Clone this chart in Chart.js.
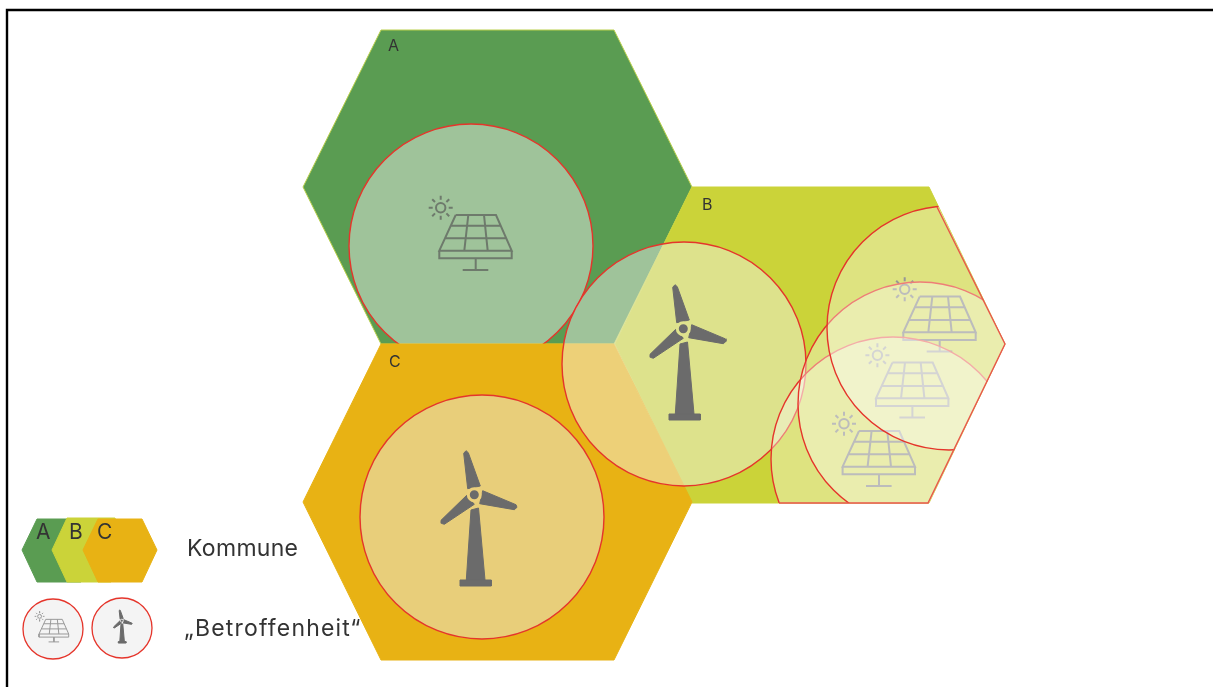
<!DOCTYPE html>
<html>
	<head>
		<meta charset="UTF-8">
		<title>Betroffenheit</title>
		<script src="https://cdn.jsdelivr.net/npm/chart.js"></script>
		<style>
			* {padding: 0; margin: 0;}
			html, body {background: #fff; overflow: hidden;}
			canvas {display: block;}
		</style>
	</head>
	<body>
		<canvas id="myChart" width="1213" height="687"></canvas>
		<script>
			// shapes (x, y in scale units)
			const hexA = [[381,30],[614,30],[692,187],[614,344],[381,344],[303,187],[381,30]];
			const hexB = [[692,187],[929,187],[1005,344],[929,503],[692,503],[615,344],[692,187]];
			const hexC = [[381,344],[614,344],[692,502],[614,660],[381,660],[303,502],[381,344]];
			const hexEdgeB = [[937,207],[1005,344],[928,503],[779,503]];
			const legendA = [[37,519],[81,519],[96,550],[81,582],[37,582],[22,550],[37,519]];
			const legendB = [[67,518],[115,518],[126,550],[111,582],[67,582],[52,550],[67,518]];
			const legendC = [[98,519],[142,519],[157,550],[142,582],[98,582],[83,550],[98,519]];
			const frame = [[7,687],[7,10],[1213,10]];

			// circles: x, y, r
			const circleA = {x: 471, y: 246, r: 122};
			const circleB = {x: 684, y: 364, r: 122};
			const circleC = {x: 482, y: 517, r: 122};
			const circleRight1 = {x: 949, y: 328, r: 122};
			const circleRight2 = {x: 920, y: 404, r: 122};
			const circleRight3 = {x: 893, y: 459, r: 122};
			const legendCircle1 = {x: 53, y: 629, r: 30};
			const legendCircle2 = {x: 122, y: 628, r: 30};

			// solar icon, strokes
			const panelLines = [
				[[45.7,35],[86,35],[101.7,70.7],[29.3,70.7],[45.7,35]],
				[[29.3,70.7],[29.3,78.3],[101.7,78.3],[101.7,70.7]],
				[[41,45.7],[90.3,45.7]],
				[[35.7,58.3],[96,58.3]],
				[[58.3,35],[54.3,70.7]],
				[[74,35],[77.7,70.7]],
				[[65.7,78.3],[65.7,90]],
				[[52.7,90],[78.3,90]],
				[[30.7,15.7],[30.7,19.7]],
				[[30.7,35.7],[30.7,39.7]],
				[[18.7,27.7],[22.7,27.7]],
				[[38.7,27.7],[42.7,27.7]],
				[[22.2,19.2],[25,22]],
				[[36.4,33.4],[39.2,36.2]],
				[[39.2,19.2],[36.4,22]],
				[[25,33.4],[22.2,36.2]]
			];
			const sunCenter = [30.7, 27.7];
			const sunRadius = 4.7;

			// wind turbine icon, filled parts
			const turbineParts = [
				[[50,74],[57.5,72],[64,144],[45.3,144]],
				[[39,144],[70.3,144],[70.3,150],[39,150]],
				[[42.7,17.3],[45,14.7],[47.3,16.7],[59.3,50],[46.7,52.7]],
				[[61.7,54.7],[95,68.7],[96,71.3],[93.3,73.7],[58.7,67.7]],
				[[45.7,59.3],[53.3,68.3],[23.3,88.3],[20.3,87.3],[20,84.3]]
			];
			const turbineHub = [53.3, 58.7];

			// where the icons sit: x, y, scale
			const solarSpots = [[410,180,1],[874,261.6,1],[846.7,327.6,1],[813.3,396,1]];
			const windSpots = [[630,270,1],[421,436,1]];
			const legendSolar = [27,605,0.41];
			const legendWind = [108.7,606.3,0.245];

			const labels = ["A", "B", "C", "A", "B", "C", "Kommune", "„Betroffenheit“"];
			const labelX = [388, 702, 389, 36, 69, 97, 187, 184];
			const labelY = [46, 205, 362, 533, 533, 533, 549, 629];
			const labelSize = [16, 16, 16, 21, 21, 21, 23, 23];
			const labelGap = [0, 0, 0, 0, 0, 0, 0.3, 1.2];

			const GREEN = "#5a9c52", LIME = "#cbd339", AMBER = "#e8b214";
			const RED = "#e5352b", ICON = "#6b6b6b", ICON_FADED = "#5c5c5c";

			function toPts(list) {
				return list.map(function(p) { return {x: p[0], y: p[1]}; });
			}

			function poly(list, color, edge) {
				return {
					type: "scatter", data: toPts(list), showLine: true, fill: "shape",
					backgroundColor: color, borderColor: edge || color, borderWidth: 1,
					pointRadius: 0, tension: 0
				};
			}

			function stroke(list, color, width) {
				return {
					type: "scatter", data: toPts(list), showLine: true, fill: false,
					borderColor: color, borderWidth: width, pointRadius: 0, tension: 0
				};
			}

			function bubble(c, fillColor, edge, width, clipTo) {
				return {
					type: "bubble", data: [c], backgroundColor: fillColor,
					borderColor: edge, borderWidth: width, clipTo: clipTo
				};
			}

			// icon in picture position, one dataset for all strokes with gaps between
			function solar(spot, color, width) {
				let pts = [];
				panelLines.forEach(function(line) {
					line.forEach(function(p) {
						pts.push([spot[0] + p[0] * spot[2], spot[1] + p[1] * spot[2]]);
					});
					pts.push([null, null]);
				});
				const sun = {x: spot[0] + sunCenter[0] * spot[2], y: spot[1] + sunCenter[1] * spot[2], r: sunRadius * spot[2]};
				return [stroke(pts, color, width), bubble(sun, "rgba(0,0,0,0)", color, width)];
			}

			function turbine(spot, color, hubEdge) {
				let out = turbineParts.map(function(part) {
					return poly(part.concat([part[0]]).map(function(p) {
						return [spot[0] + p[0] * spot[2], spot[1] + p[1] * spot[2]];
					}), color);
				});
				const hub = {x: spot[0] + turbineHub[0] * spot[2], y: spot[1] + turbineHub[1] * spot[2], r: 6 * spot[2]};
				out.push(bubble(hub, color, hubEdge, 3 * spot[2]));
				return out;
			}

			const VEIL = "rgba(245,244,241,0.45)";
			const VEIL_C = "rgba(232,240,247,0.45)";
			const VEIL_THIN = "rgba(255,255,255,0.36)";

			// listed from bottom to top
			let layers = [
				poly(hexA, GREEN, "#b9cf4a"),
				bubble(circleA, VEIL, RED, 1.4)
			];
			layers = layers.concat(solar(solarSpots[0], "#6e7a6c", 2));
			layers.push(poly(hexB, LIME));
			layers.push(poly(hexC, AMBER));
			layers.push(bubble(circleC, VEIL_C, RED, 1.4));
			layers = layers.concat(turbine(windSpots[1], ICON, "#ecd07c"));
			layers.push(bubble(circleB, VEIL, RED, 1.4));
			layers = layers.concat(turbine(windSpots[0], ICON, "#dfe28e"));
			layers = layers.concat(solar(solarSpots[1], ICON_FADED, 2));
			layers = layers.concat(solar(solarSpots[2], ICON_FADED, 2));
			layers = layers.concat(solar(solarSpots[3], ICON_FADED, 2));
			layers.push(bubble(circleRight3, VEIL_THIN, RED, 1.4, hexB));
			layers.push(bubble(circleRight2, VEIL_THIN, RED, 1.4, hexB));
			layers.push(bubble(circleRight1, VEIL_THIN, RED, 1.4, hexB));
			layers.push(stroke(hexEdgeB, "#e8564a", 1.4));
			layers.push(poly(legendA, GREEN));
			layers.push(poly(legendB, LIME));
			layers.push(poly(legendC, AMBER));
			layers.push(bubble(legendCircle1, "#f4f4f4", RED, 1.3));
			layers.push(bubble(legendCircle2, "#f4f4f4", RED, 1.3));
			layers = layers.concat(solar(legendSolar, "#999999", 1));
			layers = layers.concat(turbine(legendWind, ICON, "#f4f4f4"));
			layers.push(stroke(frame, "#000000", 2.4));

			// some bubbles only show inside a hexagon
			const clipPlugin = {
				id: "clipPlugin",
				beforeDatasetDraw: function(chart, args) {
					const shape = chart.data.datasets[args.index].clipTo;
					if (!shape) return;
					const ctx = chart.ctx;
					ctx.save();
					ctx.beginPath();
					shape.forEach(function(p, i) {
						const px = chart.scales.x.getPixelForValue(p[0]);
						const py = chart.scales.y.getPixelForValue(p[1]);
						if (i === 0) ctx.moveTo(px, py); else ctx.lineTo(px, py);
					});
					ctx.closePath();
					ctx.clip();
				},
				afterDatasetDraw: function(chart, args) {
					if (chart.data.datasets[args.index].clipTo) chart.ctx.restore();
				}
			};

			const textPlugin = {
				id: "textPlugin",
				afterDraw: function(chart) {
					const ctx = chart.ctx;
					ctx.save();
					ctx.fillStyle = "#333333";
					ctx.textBaseline = "middle";
					ctx.textAlign = "left";
					labels.forEach(function(t, i) {
						ctx.font = labelSize[i] + "px Inter";
						ctx.letterSpacing = labelGap[i] + "px";
						ctx.fillText(t, chart.scales.x.getPixelForValue(labelX[i]), chart.scales.y.getPixelForValue(labelY[i]));
					});
					ctx.restore();
				}
			};

			new Chart(document.getElementById("myChart"), {
				type: "scatter",
				// Chart.js paints the first dataset last
				data: {datasets: layers.slice().reverse()},
				options: {
					responsive: false,
					animation: false,
					devicePixelRatio: 1,
					layout: {padding: 0, autoPadding: false},
					events: [],
					plugins: {legend: {display: false}, tooltip: {enabled: false}},
					scales: {
						x: {type: "linear", min: 0, max: 1213, display: false},
						y: {type: "linear", min: 0, max: 687, reverse: true, display: false}
					}
				},
				plugins: [clipPlugin, textPlugin]
			});
		</script>
	</body>
</html>
